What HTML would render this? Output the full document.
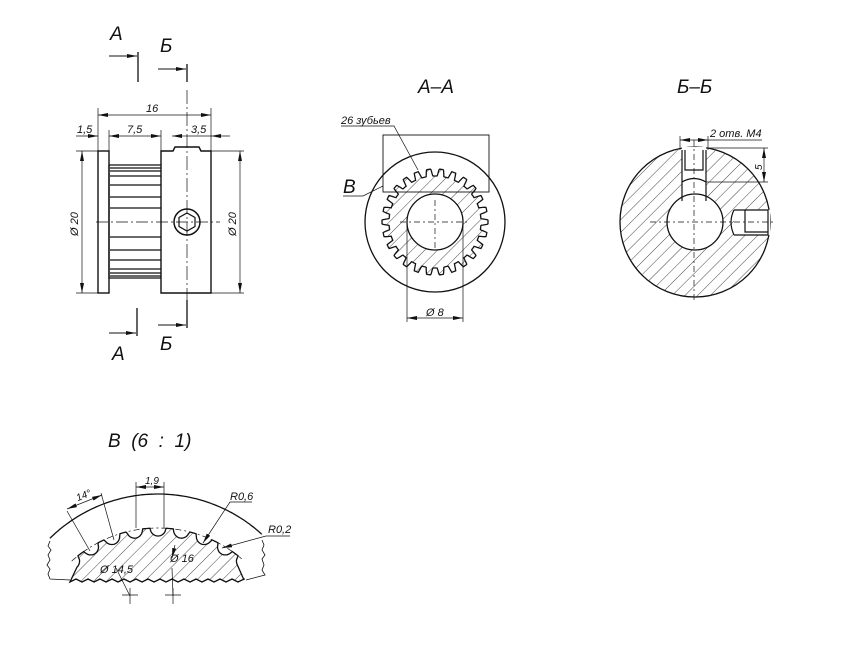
<!DOCTYPE html>
<html><head><meta charset="utf-8"><style>
html,body{margin:0;padding:0;background:#fff;width:866px;height:650px;overflow:hidden}
svg{display:block}
text{font-family:"Liberation Sans","DejaVu Sans",sans-serif;font-style:italic;fill:#111}
</style></head><body>
<svg id="s" width="866" height="650" viewBox="0 0 866 650" xmlns="http://www.w3.org/2000/svg">
<defs>
<pattern id="h" patternUnits="userSpaceOnUse" width="9" height="9" patternTransform="rotate(45)">
<line x1="0" y1="0" x2="0" y2="9" stroke="#333" stroke-width="0.9"/>
</pattern>
<marker id="ar" markerWidth="10" markerHeight="6" refX="10" refY="3" orient="auto" markerUnits="userSpaceOnUse"><path d="M0,1 L10,3 L0,5 Z" fill="#111"/></marker>
<marker id="al" markerWidth="10" markerHeight="6" refX="0" refY="3" orient="auto" markerUnits="userSpaceOnUse"><path d="M10,1 L0,3 L10,5 Z" fill="#111"/></marker>
</defs>
<g stroke="#111" fill="none" stroke-width="1">
<line x1="109" y1="56" x2="137" y2="56" marker-end="url(#ar)"/>
<line x1="138" y1="52" x2="138" y2="82" stroke-width="1.3"/>
<line x1="158" y1="69" x2="186" y2="69" marker-end="url(#ar)"/>
<line x1="187" y1="64" x2="187" y2="82" stroke-width="1.3"/>
<line x1="109" y1="333" x2="136" y2="333" marker-end="url(#ar)"/>
<line x1="137" y1="308" x2="137" y2="336" stroke-width="1.3"/>
<line x1="158" y1="325" x2="186" y2="325" marker-end="url(#ar)"/>
<line x1="187" y1="300" x2="187" y2="328" stroke-width="1.3"/>

<rect x="98" y="151" width="11" height="142" stroke-width="1.4"/>
<path d="M109,165 V278 H161" stroke-width="1.3"/>
<path d="M109,165 H161" stroke-width="1.3"/>
<path d="M161,293 V151 H173 L175,147 H199 L201,151 H211 V293 Z" stroke-width="1.4"/>
<g stroke-width="1.2">
<line x1="110" y1="168" x2="161" y2="168"/><line x1="110" y1="171" x2="161" y2="171"/>
<line x1="110" y1="176" x2="161" y2="176"/><line x1="110" y1="185" x2="161" y2="185"/>
<line x1="110" y1="197" x2="161" y2="197"/><line x1="110" y1="208" x2="161" y2="208"/>
<line x1="110" y1="237" x2="161" y2="237"/><line x1="110" y1="250" x2="161" y2="250"/>
<line x1="110" y1="260" x2="161" y2="260"/><line x1="110" y1="269" x2="161" y2="269"/>
<line x1="110" y1="273" x2="161" y2="273"/><line x1="110" y1="276" x2="161" y2="276"/>
</g>
<circle cx="187" cy="222" r="13" stroke-width="1.5"/>
<path d="M187,213 L195,217.5 V226.5 L187,231 L179,226.5 V217.5 Z" stroke-width="1.2"/>
<line x1="96" y1="222" x2="220" y2="222" stroke-width="0.7" stroke-dasharray="12,3,2,3"/>
<line x1="187" y1="90" x2="187" y2="305" stroke-width="0.7" stroke-dasharray="14,3,2,3"/>
<g stroke-width="0.7">
<line x1="98" y1="108" x2="98" y2="151"/><line x1="211" y1="108" x2="211" y2="151"/>
<line x1="98" y1="115" x2="211" y2="115" marker-start="url(#al)" marker-end="url(#ar)"/>
<line x1="109" y1="130" x2="109" y2="151"/><line x1="161" y1="130" x2="161" y2="151"/>
<line x1="76" y1="136" x2="98" y2="136" marker-end="url(#ar)"/>
<line x1="109" y1="136" x2="161" y2="136" marker-start="url(#al)" marker-end="url(#ar)"/>
<line x1="172" y1="136" x2="187" y2="136" marker-start="url(#al)"/>
<line x1="187" y1="136" x2="211" y2="136"/>
<line x1="211" y1="136" x2="230" y2="136" marker-start="url(#al)"/>
<line x1="76" y1="151" x2="98" y2="151"/><line x1="76" y1="293" x2="98" y2="293"/>
<line x1="82" y1="151" x2="82" y2="293" marker-start="url(#al)" marker-end="url(#ar)"/>
<line x1="211" y1="151" x2="244" y2="151"/><line x1="211" y1="293" x2="244" y2="293"/>
<line x1="240" y1="151" x2="240" y2="293" marker-start="url(#al)" marker-end="url(#ar)"/>
</g>

<circle cx="435" cy="222" r="70" stroke-width="1.3"/>
<path id="gearA" fill="url(#h)" stroke-width="1.3"/>
<circle cx="435" cy="222" r="28" fill="#fff" stroke-width="1.3"/>
<rect x="383" y="135" width="106" height="57" stroke-width="0.9"/>
<line x1="435" y1="200" x2="435" y2="250" stroke-width="0.7" stroke-dasharray="6,3,2,3"/>
<line x1="400" y1="222" x2="470" y2="222" stroke-width="0.7" stroke-dasharray="6,3,2,3"/>
<g stroke-width="0.7">
<line x1="407" y1="222" x2="407" y2="322"/><line x1="463" y1="222" x2="463" y2="322"/>
<line x1="407" y1="318" x2="463" y2="318" marker-start="url(#al)" marker-end="url(#ar)"/>
<polyline points="341,126 394,126 418,170"/>
<polyline points="343,196 363,196 383,186"/>
</g>

<circle cx="695" cy="222" r="75" fill="url(#h)" stroke-width="1.3"/>
<rect x="682" y="147" width="24" height="40" fill="#fff" stroke="none"/>
<rect x="682" y="187" width="24" height="14" fill="#fff" stroke="none"/>
<rect x="734" y="210" width="36" height="25" fill="#fff" stroke="none"/>
<circle cx="695" cy="222" r="28" fill="#fff" stroke-width="1.3"/>
<g stroke-width="1.2">
<path d="M682,150 V182 M706,150 V182 M685,150 V170 H703 V150"/>
<path d="M682,182 V201 M706,182 V201 M682,182 Q694,175 706,182"/>
<path d="M734,210 H768 M734,235 H768 M768,210 V235 M745,210 V232 H768 M734,210 Q728,222 734,235"/>
</g>
<line x1="694" y1="140" x2="694" y2="300" stroke-width="0.7" stroke-dasharray="6,3,2,3"/>
<line x1="650" y1="222" x2="775" y2="222" stroke-width="0.7" stroke-dasharray="6,3,2,3"/>
<g stroke-width="0.7">
<line x1="680" y1="140" x2="708" y2="140" marker-start="url(#al)" marker-end="url(#ar)"/>
<line x1="708" y1="140" x2="762" y2="140"/>
<line x1="680" y1="136" x2="680" y2="150"/><line x1="708" y1="136" x2="708" y2="150"/>
<line x1="706" y1="148" x2="768" y2="148"/><line x1="706" y1="182" x2="768" y2="182"/>
<line x1="764" y1="148" x2="764" y2="182" marker-start="url(#al)" marker-end="url(#ar)"/>
</g>

<path id="outerB" stroke-width="1.3"/>
<path id="gearB" fill="url(#h)" stroke-width="1.3"/>
<path id="tipB" stroke-width="0.7" stroke-dasharray="6,3,2,3"/>
<path d="M50,541 l-2,5 l3,4 l-3,5 l2,5 l-3,5 l3,4 l-2,5 l2,5 L70,580 M262,540 l2,5 l-2,5 l3,5 l-3,4 l2,6 l-2,5 l3,5 L246,580" stroke-width="0.8"/>
<g stroke-width="0.7">
<line x1="136" y1="482" x2="136" y2="528"/><line x1="164" y1="482" x2="164" y2="528"/>
<line x1="136" y1="487" x2="164" y2="487" marker-start="url(#al)" marker-end="url(#ar)"/>
<line x1="67" y1="511" x2="90" y2="551"/><line x1="101" y1="493" x2="114" y2="540"/>
<line x1="67" y1="509" x2="102" y2="495" marker-start="url(#al)" marker-end="url(#ar)"/>
<polyline points="252,502 230,502 203,543" marker-end="url(#ar)"/>
<polyline points="290,536 266,536 222,548" marker-end="url(#ar)"/>
<line x1="116" y1="568" x2="130" y2="596"/>
<path d="M122,595 h16 M130,588 v16"/>
<line x1="175" y1="545" x2="172" y2="558" marker-end="url(#ar)"/>
<line x1="172" y1="568" x2="173" y2="596"/>
<path d="M165,595 h16 M173,588 v16"/>
</g>
</g>
<g font-size="11">
<text x="77" y="133">1,5</text><text x="127" y="133">7,5</text><text x="191" y="133">3,5</text>
<text x="146" y="112">16</text>
<text transform="translate(78,236) rotate(-90)">Ø 20</text>
<text transform="translate(236,236) rotate(-90)">Ø 20</text>
<text x="341" y="124" font-size="11">26 зубьев</text>
<text x="426" y="316">Ø 8</text>
<text x="710" y="137" font-size="11">2 отв. M4</text>
<text transform="translate(762,170) rotate(-90)" font-size="10">5</text>
<text x="145" y="484" font-size="10">1,9</text>
<text x="76" y="500" font-size="10" transform="rotate(-22 80 496)">14°</text>
<text x="230" y="500" font-size="11">R0,6</text>
<text x="268" y="533" font-size="11">R0,2</text>
<text x="100" y="573" font-size="11">Ø 14,5</text>
<text x="170" y="562" font-size="11">Ø 16</text>
</g>
<g font-size="19">
<text x="110" y="40">A</text><text x="160" y="52">Б</text>
<text x="112" y="360">A</text><text x="160" y="350">Б</text>
<text x="418" y="93">A–A</text><text x="677" y="93">Б–Б</text>
<text x="343" y="193">B</text>
<text x="108" y="447" xml:space="preserve">B  (6  :  1)</text>
</g>
</svg>
<script>
(function(){
var d2r=Math.PI/180;
var cx=435,cy=222,N=26,ro=53,rr=46,p=[];
for(var i=0;i<=720;i++){var a=i/720*2*Math.PI;var t=(a*N/(2*Math.PI))%1;var c=Math.cos(t*2*Math.PI);var r=rr+(ro-rr)*Math.max(0,Math.min(1,(c+0.3)/0.8));p.push((cx+r*Math.cos(a)).toFixed(1)+","+(cy+r*Math.sin(a)).toFixed(1));}
document.getElementById("gearA").setAttribute("d","M"+p.join(" L")+"Z");
var ox=158,oy=648,R=154,q=[];
for(var a=-44.6;a<=42.5;a+=1){q.push((ox+R*Math.sin(a*d2r)).toFixed(1)+","+(oy-R*Math.cos(a*d2r)).toFixed(1));}
document.getElementById("outerB").setAttribute("d","M"+q.join(" L"));
var gx=158,gy=657,RT=129,nr=8,step=10.5,g=[],tp=[];
for(var a=-42;a<=40.5;a+=0.4){var cs=Math.round(a/step)*step;var d=(a-cs)*RT*d2r;var r=RT;if(Math.abs(d)<nr)r=RT-Math.sqrt(nr*nr-d*d);
g.push((gx+r*Math.sin(a*d2r)).toFixed(1)+","+(gy-r*Math.cos(a*d2r)).toFixed(1));tp.push((gx+RT*Math.sin(a*d2r)).toFixed(1)+","+(gy-RT*Math.cos(a*d2r)).toFixed(1));}
var b="M"+g.join(" L")+" L244,580 ";
for(var x=244;x>=70;x-=6){b+="L"+x+","+(580+((x/6|0)%2?2:-1))+" ";}
b+="Z";
document.getElementById("gearB").setAttribute("d",b);
document.getElementById("tipB").setAttribute("d","M"+tp.join(" L"));
})();
</script>
</body></html>
